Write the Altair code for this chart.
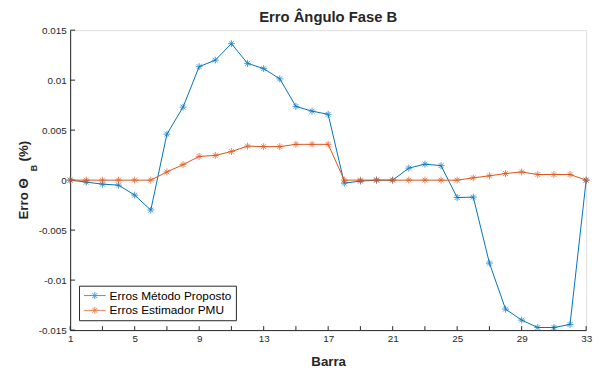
import altair as alt
import pandas as pd

bars = list(range(1, 34))
metodo = [0.0, -0.0002, -0.0004, -0.0005, -0.0015, -0.0030, 0.0046, 0.0073,
          0.01135, 0.0120, 0.01365, 0.01168, 0.01115, 0.01013, 0.00737, 0.0069,
          0.00658, -0.0003, -0.0001, 0.0, 0.0, 0.0012, 0.0016, 0.00145,
          -0.00174, -0.0017, -0.0083, -0.0129, -0.0140, -0.01474, -0.01474,
          -0.01444, 0.0]
estimador = [0.0, 0.0, 0.0, 0.0, 0.0, 0.0, 0.00082, 0.00155, 0.00237, 0.00247,
             0.00286, 0.0034, 0.00335, 0.00335, 0.00358, 0.00358, 0.00358, 0.0,
             0.0, 0.0, 0.0, 0.0, 0.0, 0.0, 0.0, 0.00023, 0.00043, 0.00066,
             0.00082, 0.00056, 0.00056, 0.00056, 0.0]
series_names = ["Erros Método Proposto", "Erros Estimador PMU"]
series_colors = ["#0072BD", "#D95319"]
x_ticks = list(range(1, 34, 2))
y_ticks = [-0.015, -0.01, -0.005, 0.0, 0.005, 0.01, 0.015]
title_text = "Erro Ângulo Fase B"
ytitle_main = "Erro Θ"
ytitle_sub = "B"
ytitle_end = "(%)"

W, H = 523, 304
AX = "#262626"
FONT = "Liberation Sans"
STAR = "M-1,0L1,0M0,-1L0,1M-0.7,-0.7L0.7,0.7M-0.7,0.7L0.7,-0.7"
LEG_SYM = ("M-3,0L3,0M0,-0.95L0,0.95M-0.95,0L0.95,0"
           "M-0.67,-0.67L0.67,0.67M-0.67,0.67L0.67,-0.67")

df = pd.DataFrame({
    "barra": bars * 2,
    "valor": metodo + estimador,
    "serie": [series_names[0]] * len(bars) + [series_names[1]] * len(bars),
})

xs = alt.Scale(domain=[1, 33], nice=False, zero=False)
ys = alt.Scale(domain=[-0.015, 0.015], nice=False, zero=False)
cs = alt.Scale(domain=series_names, range=series_colors)

x_enc = alt.X("barra:Q", scale=xs, axis=alt.Axis(
    values=x_ticks, ticks=False, tickSize=0, grid=False, labelFontSize=10,
    labelColor=AX, labelFont=FONT, labelPadding=4, domainColor=AX,
    title="Barra", titleFont=FONT, titleFontSize=13.5, titleFontWeight="bold",
    titleColor=AX, titlePadding=11, labelFlush=False))
y_enc = alt.Y("valor:Q", scale=ys, title="", axis=alt.Axis(
    values=y_ticks, ticks=False, tickSize=0, grid=False, labelFontSize=10,
    labelColor=AX, labelFont=FONT, labelPadding=4, domainColor=AX,
    labelExpr="'' + round(datum.value*1000)/1000", title="",
    labelFlush=False))
c_enc = alt.Color("serie:N", scale=cs, legend=alt.Legend(
    title=None, orient="none", legendX=9, legendY=259,
    symbolType=LEG_SYM, symbolSize=54, symbolStrokeWidth=1,
    symbolOffset=6, labelOffset=9,
    labelFont=FONT, labelFontSize=12, labelColor="#000000",
    strokeColor=AX, fillColor="white", padding=4, rowPadding=3))

layers = []
for name in series_names:
    sub = df[df["serie"] == name]
    layers.append(alt.Chart(sub).mark_line(strokeWidth=1).encode(
        x=x_enc, y=y_enc, color=c_enc))
    layers.append(alt.Chart(sub).mark_point(
        shape=STAR, filled=False, size=49, strokeWidth=1).encode(
        x=x_enc, y=y_enc, color=c_enc))

xt = pd.DataFrame({"v": x_ticks})
yt = pd.DataFrame({"v": y_ticks})
tick_x = alt.Chart(xt).mark_rule(color=AX, strokeWidth=1).encode(
    x=alt.X("v:Q", scale=xs, title="Barra"), y=alt.value(H), y2=alt.value(H - 4))
tick_y = alt.Chart(yt).mark_rule(color=AX, strokeWidth=1).encode(
    y=alt.Y("v:Q", scale=ys, title=""), x=alt.value(0), x2=alt.value(5))


def label(txt, x, y, size, angle=270, align="left"):
    return alt.Chart(alt.Data(values=[{"t": txt}])).mark_text(
        align=align, baseline="alphabetic", font=FONT, fontSize=size,
        fontWeight="bold", color=AX, angle=angle).encode(
        text="t:N", x=alt.value(x), y=alt.value(y))


t1 = label(ytitle_main, -43, 150, 13.5, align="right")
t2 = label(ytitle_sub, -34, 143, 9)
t3 = label(ytitle_end, -43, 133, 13.5)
tt = label(title_text, W / 2, -8, 15, angle=0, align="center")

chart = alt.layer(tick_x, tick_y, *layers, t1, t2, t3, tt).properties(
    width=W, height=H,
    autosize=alt.AutoSizeParams(type="none"),
    padding={"left": 63, "top": 20, "right": 12, "bottom": 39},
).configure_view(stroke=None).configure(background="white")

chart.save("out.html", embed_options={"renderer": "svg", "actions": False})
